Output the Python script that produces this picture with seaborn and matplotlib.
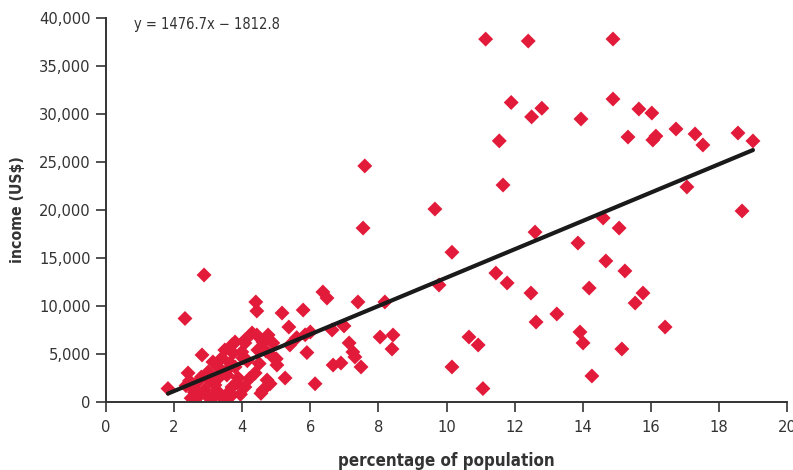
import matplotlib
matplotlib.use("Agg")
import matplotlib.pyplot as plt
import seaborn as sns
import numpy as np
import pandas as pd
from matplotlib import font_manager

# ---- data ----
pct_population = [
    # dense cluster x 1.8 - 5
    1.82, 2.32, 2.88, 2.82, 2.41, 3.14, 3.00, 2.67, 2.70, 2.90, 3.20, 3.40, 3.55, 3.70,
    3.79, 3.73, 3.49, 3.40, 3.99, 4.08, 4.29, 3.70, 3.88, 3.14, 3.70, 3.79, 4.08, 4.43,
    4.76, 4.90, 4.61, 4.02, 4.46, 4.90, 5.02, 4.73, 4.61, 4.38, 3.85, 4.08, 3.64, 4.40,
    4.43, 2.50, 2.60, 2.45, 2.55, 2.80, 2.95, 3.05, 3.30, 3.30, 3.60, 3.50, 2.60, 3.25,
    3.95, 4.20, 4.50, 4.15, 4.70, 5.00, 4.82, 5.26, 2.35, 3.10, 3.55, 4.55,
    # middle x 5 - 9
    5.17, 5.37, 5.79, 6.37, 6.49, 7.40, 8.19, 7.60, 7.55, 5.85, 6.00, 6.64, 6.99, 7.14,
    7.25, 7.31, 7.49, 6.67, 6.90, 8.05, 8.43, 8.40, 6.14, 5.90, 5.60, 5.40,
    # right x 9 - 19
    9.66, 9.78, 10.16, 10.16, 10.66, 10.93, 11.07, 11.15, 11.45, 11.55, 11.66, 11.78,
    11.90, 12.40, 12.48, 12.50, 12.60, 12.63, 12.80, 13.24, 13.86, 13.92, 13.95, 14.01,
    14.19, 14.27, 14.60, 14.68, 14.89, 14.89, 15.07, 15.15, 15.24, 15.33, 15.54, 15.65,
    15.77, 16.03, 16.06, 16.15, 16.42, 16.74, 17.06, 17.30, 17.53, 18.56, 18.68, 19.00,
]
income_usd = [
    1400, 8700, 13230, 4900, 3020, 4170, 3125, 1980, 520, 1250, 1770, 520, 2810, 1560,
    3650, 5100, 5420, 4580, 5210, 6460, 7190, 5940, 2500, 520, 730, 6250, 6150, 6980,
    6980, 6150, 6250, 4580, 5420, 4690, 3850, 2290, 1250, 3020, 1980, 1560, 4060, 10420,
    9480, 400, 1000, 2200, 1500, 2600, 700, 2200, 2500, 3600, 1000, 200, 200, 1200,
    800, 2400, 4000, 4300, 5300, 4500, 1900, 2500, 1700, 300, 3300, 900,
    9270, 7810, 9580, 11460, 10830, 10420, 10420, 24590, 18120, 7000, 7290, 7500, 7920, 6150,
    5210, 4690, 3650, 3850, 4060, 6770, 6980, 5520, 1900, 5150, 6700, 5940,
    20100, 12190, 15600, 3650, 6770, 5940, 1400, 37800, 13430, 27200, 22600, 12400,
    31200, 37600, 11350, 29700, 17700, 8330, 30600, 9170, 16560, 7290, 29480, 6150,
    11870, 2710, 19170, 14690, 37810, 31560, 18120, 5520, 13650, 27600, 10310, 30520,
    11350, 30100, 27290, 27700, 7810, 28440, 22400, 27920, 26770, 28020, 19900, 27190,
]
slope = 1476.7
intercept = -1812.8
equation_label = "y = 1476.7x \u2212 1812.8"
x_ticks = [0, 2, 4, 6, 8, 10, 12, 14, 16, 18, 20]
y_ticks = [0, 5000, 10000, 15000, 20000, 25000, 30000, 35000, 40000]
x_label = "percentage of population"
y_label = "income (US$)"

df = pd.DataFrame({"pct": pct_population, "income": income_usd})
x_fit = [min(pct_population), max(pct_population)]
fit_df = pd.DataFrame({"pct": x_fit, "income": [slope * v + intercept for v in x_fit]})

sns.set_style("ticks")
names = {f.name for f in font_manager.fontManager.ttflist}
if "Liberation Sans Narrow" in names:
    plt.rcParams["font.family"] = ["Liberation Sans Narrow", "DejaVu Sans"]
else:
    plt.rcParams["font.family"] = ["DejaVu Sans"]
    plt.rcParams["font.stretch"] = "condensed"

fig = plt.figure(figsize=(7.93, 4.70), dpi=100)
ax = fig.add_axes([106 / 793, 1 - 402 / 470, (787 - 106) / 793, (402 - 18) / 470])

sns.scatterplot(data=df, x="pct", y="income", marker="D", s=58, color="#E31B3B",
                edgecolor="none", linewidth=0, ax=ax, zorder=2)
sns.lineplot(data=fit_df, x="pct", y="income", color="#1a1a1a", linewidth=3, ax=ax, zorder=3)

ax.set_xlim(0, 20)
ax.set_ylim(0, 40000)
ax.set_xticks(x_ticks)
ax.set_yticks(y_ticks)
ax.set_xticklabels([str(t) for t in x_ticks])
ax.set_yticklabels([f"{t:,}" for t in y_ticks])
ax.tick_params(axis="both", direction="out", length=7, width=1.2, color="#333333",
               labelsize=11.8, labelcolor="#333333", pad=4)
ax.tick_params(axis="x", pad=6)
for side in ["top", "right"]:
    ax.spines[side].set_visible(False)
for side in ["left", "bottom"]:
    ax.spines[side].set_color("#333333")
    ax.spines[side].set_linewidth(1.4)

ax.set_xlabel(x_label, fontsize=12.2, fontweight="bold", color="#333333", labelpad=12)
ax.set_ylabel(y_label, fontsize=11.3, fontweight="bold", color="#333333", labelpad=10)

ax.text(0.82, 39300, equation_label, ha="left", va="center", fontsize=10.5, color="#333333")

fig.savefig("out.png", dpi=100)
